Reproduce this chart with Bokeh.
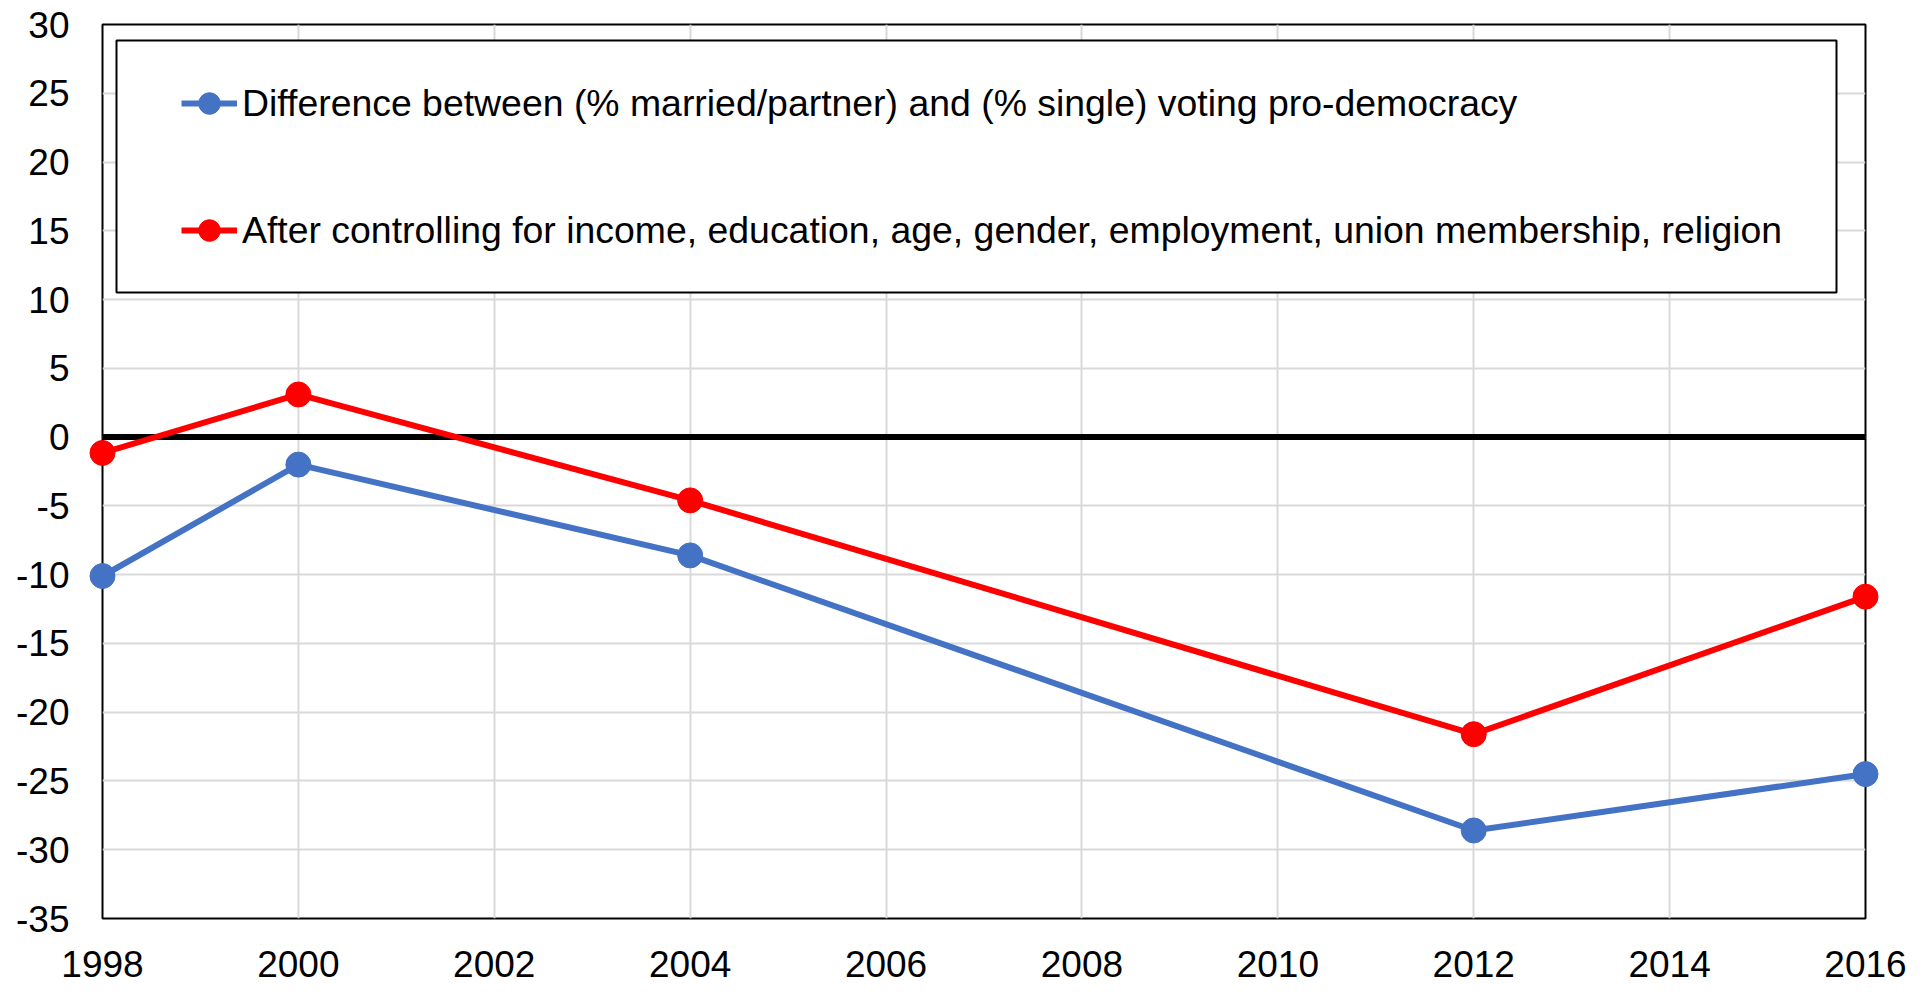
from bokeh.plotting import figure
from bokeh.models import Span, Legend, LegendItem, BoxAnnotation, FixedTicker, Range1d
from bokeh.embed import file_html
from bokeh.resources import INLINE

# ---- data ----
years = [1998, 2000, 2004, 2012, 2016]
diff_raw = [-10.1, -2.0, -8.6, -28.6, -24.5]
diff_ctrl = [-1.15, 3.1, -4.6, -21.6, -11.6]
x_ticks = [1998, 2000, 2002, 2004, 2006, 2008, 2010, 2012, 2014, 2016]
y_ticks = [-35, -30, -25, -20, -15, -10, -5, 0, 5, 10, 15, 20, 25, 30]
label_raw = "Difference between (% married/partner) and (% single) voting pro-democracy"
label_ctrl = "After controlling for income, education, age, gender, employment, union membership, religion"

BLUE = "#4472C4"
RED = "#FF0000"
FONT = "Liberation Sans"
FS = "37px"
LFS = "37.4px"

p = figure(width=1926, height=992, output_backend="svg", toolbar_location=None,
           x_range=Range1d(1998, 2016), y_range=Range1d(-35, 30),
           min_border_left=102, min_border_right=61, min_border_top=24, min_border_bottom=74,
           background_fill_color="white", border_fill_color="white")

p.outline_line_color = "black"
p.outline_line_width = 2

for ax in (p.xaxis, p.yaxis):
    ax.axis_line_color = None
    ax.major_tick_line_color = None
    ax.minor_tick_line_color = None
    ax.major_tick_out = 0
    ax.major_tick_in = 0
    ax.major_label_text_font = FONT
    ax.major_label_text_font_size = FS
    ax.major_label_text_color = "black"

p.xaxis.ticker = FixedTicker(ticks=x_ticks)
p.yaxis.ticker = FixedTicker(ticks=y_ticks)
p.xaxis.major_label_overrides = {t: str(t) for t in x_ticks}
p.yaxis.major_label_overrides = {t: str(t) for t in y_ticks}
p.xaxis.major_label_standoff = 32
p.yaxis.major_label_standoff = 33

p.xgrid.ticker = FixedTicker(ticks=x_ticks)
p.ygrid.ticker = FixedTicker(ticks=y_ticks)
for g in (p.xgrid, p.ygrid):
    g.grid_line_color = "#d9d9d9"
    g.grid_line_width = 2

zero = Span(location=0, dimension="width", line_color="black", line_width=6, level="underlay")
p.add_layout(zero)

l1 = p.line(years, diff_raw, line_color=BLUE, line_width=6)
l2 = p.line(years, diff_ctrl, line_color=RED, line_width=6)
s1 = p.scatter(years, diff_raw, size=25, fill_color=BLUE, line_color=BLUE, level="annotation")
s2 = p.scatter(years, diff_ctrl, size=25, fill_color=RED, line_color=RED, level="annotation")

box = BoxAnnotation(left=14, right=1734, top=878, bottom=626,
                    left_units="screen", right_units="screen", top_units="screen", bottom_units="screen",
                    fill_color="white", fill_alpha=1, line_color="black", line_width=2, line_alpha=1)
p.add_layout(box)

legend = Legend(items=[LegendItem(label=label_raw, renderers=[l1, s1]),
                       LegendItem(label=label_ctrl, renderers=[l2, s2])],
                location=(79, 661), padding=0, margin=0, spacing=73,
                glyph_width=56, glyph_height=54, label_height=54, label_standoff=5,
                label_text_font=FONT, label_text_font_size=LFS, label_text_color="black",
                border_line_alpha=0, background_fill_alpha=0)
p.add_layout(legend)

open("out.html", "w").write(file_html(p, INLINE))
